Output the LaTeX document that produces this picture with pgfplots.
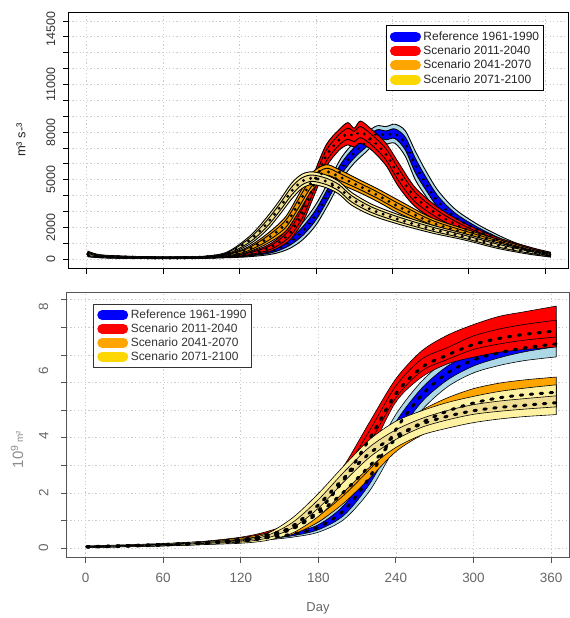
\documentclass[border=0pt]{standalone}
\usepackage{fontspec}
\setmainfont{Liberation Sans}
\usepackage{pgfplots}
\pgfplotsset{compat=1.18}
\usepackage{pgfplotstable}
\usepgfplotslibrary{fillbetween}

\definecolor{refout}{HTML}{ADD8E6}
\definecolor{refin}{HTML}{0000FF}
\definecolor{s1out}{HTML}{FF0000}
\definecolor{s1in}{HTML}{FF0000}
\definecolor{s2out}{HTML}{FFA500}
\definecolor{s2in}{HTML}{EE9A00}
\definecolor{s3out}{HTML}{FFF3A3}
\definecolor{s3in}{HTML}{EEDD92}
\definecolor{leggold}{HTML}{FFD700}
\definecolor{gridc}{HTML}{CCCCCC}
\definecolor{axgray}{HTML}{555555}
\definecolor{labgray}{HTML}{666666}

% ---------- top panel: discharge ----------
\pgfplotstableread{
day lo ilo mean ihi hi
1 150 225 300 375 450
10 100 140 180 220 260
30 60 90 120 150 180
60 30 55 80 105 130
90 50 75 100 125 150
110 90 120 150 180 210
125 140 180 220 260 300
140 250 325 400 475 550
150 400 525 650 775 900
160 700 900 1100 1300 1500
170 1250 1525 1800 2075 2350
180 2150 2475 2800 3125 3450
190 3500 3850 4200 4550 4900
200 5000 5350 5700 6050 6400
210 6050 6375 6700 7025 7350
220 6800 7100 7400 7700 8000
228 7400 7650 7900 8150 8400
235 7250 7525 7800 8075 8350
242 7300 7600 7900 8200 8500
250 6500 6900 7300 7700 8100
258 5000 5450 5900 6350 6800
266 4000 4400 4800 5200 5600
276 2900 3250 3600 3950 4300
290 2100 2350 2600 2850 3100
310 1350 1525 1700 1875 2050
336 550 675 800 925 1050
364 130 190 250 310 370
}\qref

\pgfplotstableread{
day lo ilo mean ihi hi
1 200 275 350 425 500
10 120 160 200 240 280
30 70 100 130 160 190
60 40 65 90 115 140
90 60 85 110 135 160
110 120 150 180 210 240
125 200 250 300 350 400
140 400 500 600 700 800
150 700 850 1000 1150 1300
160 1250 1475 1700 1925 2150
170 2400 2700 3000 3300 3600
178 3900 4250 4600 4950 5300
188 5800 6150 6500 6850 7200
198 6850 7175 7500 7825 8150
205 7200 7550 7900 8250 8600
210 7050 7400 7750 8050 8250
215 7300 7650 8000 8350 8700
224 6850 7175 7500 7825 8150
235 5900 6250 6600 6950 7300
245 4550 4925 5300 5675 6050
258 3300 3600 3900 4200 4500
276 2350 2575 2800 3025 3250
297 1550 1725 1900 2075 2250
323 850 975 1100 1225 1350
349 370 460 550 640 730
364 200 260 320 380 440
}\qsa

\pgfplotstableread{
day lo ilo mean ihi hi
1 180 240 300 360 420
10 100 135 170 205 240
30 60 85 110 135 160
60 40 60 80 100 120
90 60 85 110 135 160
110 170 210 250 290 330
125 400 475 550 625 700
141 950 1100 1250 1400 1550
156 1750 1975 2200 2425 2650
167 3050 3325 3600 3875 4150
177 4350 4625 4900 5175 5450
188 5050 5275 5500 5725 5950
198 4750 4975 5200 5425 5650
214 4200 4400 4600 4800 5000
229 3600 3800 4000 4200 4400
245 2900 3100 3300 3500 3700
271 2000 2150 2300 2450 2600
297 1400 1525 1650 1775 1900
323 850 950 1050 1150 1250
349 350 425 500 575 650
364 180 230 280 330 380
}\qsb

\pgfplotstableread{
day lo ilo mean ihi hi
1 180 240 300 360 420
10 100 135 170 205 240
30 60 85 110 135 160
60 40 60 80 100 120
90 90 110 130 150 170
110 280 320 360 400 440
128 950 1075 1200 1325 1450
141 1800 2000 2200 2400 2600
151 2750 2975 3200 3425 3650
161 3800 4050 4300 4550 4800
169 4450 4675 4900 5125 5350
177 4700 4900 5100 5300 5500
188 4500 4700 4900 5100 5300
198 4100 4300 4500 4700 4900
208 3400 3600 3800 4000 4200
224 2750 2925 3100 3275 3450
245 2200 2350 2500 2650 2800
271 1650 1775 1900 2025 2150
297 1200 1300 1400 1500 1600
323 670 760 850 940 1030
349 290 355 420 485 550
364 160 210 260 310 360
}\qsc

% ---------- bottom panel: cumulative (10^9 m^3) ----------
\pgfplotstableread{
day lo ilo mean ihi hi
1 0.02 0.03 0.045 0.06 0.07
30 0.05 0.06 0.075 0.09 0.1
60 0.08 0.1 0.115 0.13 0.15
90 0.13 0.15 0.175 0.2 0.22
120 0.22 0.25 0.28 0.31 0.34
140 0.3 0.34 0.38 0.42 0.46
160 0.4 0.45 0.51 0.57 0.62
180 0.58 0.67 0.76 0.85 0.95
200 1.05 1.2 1.38 1.57 1.75
220 2.1 2.35 2.6 2.88 3.15
240 3.7 4.0 4.3 4.58 4.85
260 5.0 5.3 5.55 5.8 6.05
280 5.85 6.1 6.35 6.6 6.85
300 6.35 6.6 6.82 7.06 7.3
320 6.62 6.9 7.08 7.32 7.55
340 6.8 7.12 7.26 7.5 7.72
364 6.93 7.3 7.4 7.62 7.85
}\vref

\pgfplotstableread{
day lo ilo mean ihi hi
1 0.03 0.044 0.05 0.06 0.07
30 0.06 0.078 0.085 0.098 0.11
60 0.1 0.121 0.13 0.146 0.16
90 0.15 0.187 0.2 0.223 0.24
120 0.25 0.3 0.32 0.36 0.4
140 0.36 0.44 0.48 0.54 0.6
160 0.55 0.69 0.75 0.85 0.95
180 1.0 1.24 1.35 1.55 1.75
200 2.0 2.35 2.5 2.76 3.0
220 3.5 3.84 4.0 4.29 4.6
240 5.3 5.45 5.6 5.88 6.14
260 6.2 6.42 6.55 6.85 7.15
280 6.68 6.84 7.0 7.27 7.72
300 6.92 7.2 7.38 7.69 8.1
320 7.1 7.4 7.6 7.94 8.4
340 7.2 7.54 7.75 8.11 8.57
364 7.29 7.65 7.87 8.26 8.77
}\vsa

\pgfplotstableread{
day lo ilo mean ihi hi
1 0.03 0.044 0.05 0.058 0.07
30 0.06 0.078 0.085 0.095 0.11
60 0.09 0.115 0.125 0.139 0.16
90 0.14 0.175 0.19 0.21 0.24
120 0.22 0.27 0.3 0.33 0.38
140 0.32 0.39 0.43 0.48 0.55
160 0.5 0.64 0.7 0.78 0.92
180 0.95 1.17 1.27 1.4 1.6
200 1.65 1.93 2.05 2.22 2.5
220 2.55 2.87 3.0 3.18 3.45
240 3.5 3.82 3.95 4.13 4.4
260 4.1 4.42 4.55 4.73 5.0
280 4.5 4.83 4.97 5.16 5.45
300 4.75 5.1 5.26 5.47 5.78
320 4.92 5.29 5.45 5.66 5.98
340 5.02 5.4 5.56 5.78 6.1
364 5.1 5.49 5.65 5.87 6.2
}\vsb

\pgfplotstableread{
day lo ilo mean ihi hi
1 0.03 0.048 0.055 0.067 0.08
30 0.06 0.082 0.09 0.104 0.12
60 0.09 0.119 0.13 0.148 0.17
90 0.13 0.17 0.185 0.21 0.24
120 0.18 0.223 0.24 0.268 0.3
140 0.28 0.366 0.4 0.455 0.52
160 0.55 0.73 0.8 0.93 1.1
180 1.15 1.45 1.57 1.76 1.98
200 2.05 2.42 2.55 2.77 3.0
220 2.95 3.31 3.45 3.68 3.95
240 3.65 3.94 4.07 4.29 4.6
260 4.1 4.38 4.5 4.7 4.98
280 4.35 4.65 4.78 4.99 5.28
300 4.55 4.85 4.98 5.2 5.5
320 4.68 4.96 5.1 5.33 5.68
340 4.77 5.04 5.18 5.42 5.8
364 4.84 5.12 5.27 5.52 5.92
}\vsc

% band: #1 table, #2 outer fill, #3 inner fill, #4 outline width, #5 path name
\newcommand{\band}[5]{%
  \addplot[draw=none, name path=#5a, forget plot, smooth] table[x=day,y=lo]{#1};
  \addplot[draw=none, name path=#5b, forget plot, smooth] table[x=day,y=hi]{#1};
  \addplot[draw=none, name path=#5c, forget plot, smooth] table[x=day,y=ilo]{#1};
  \addplot[draw=none, name path=#5d, forget plot, smooth] table[x=day,y=ihi]{#1};
  \addplot[fill=#2, draw=black, line width=#4, forget plot] fill between[of=#5a and #5b];
  \addplot[fill=#3, draw=black, line width=#4, forget plot] fill between[of=#5c and #5d];
}

\newcommand{\legbar}[2]{%
  \addlegendimage{legend image code/.code={%
    \path[draw=none, fill=none] (-2pt,-4.5pt) rectangle (31pt,4.5pt);
    \draw[solid, line width=10pt, line cap=round, draw=#1] (4pt,0pt) -- (25pt,0pt);}}
  \addlegendentry{#2}
}

\pgfplotsset{
  rstyle/.style={
    scale only axis,
    tick align=outside, tick pos=left,
    major tick length=6pt,
    scaled y ticks=false,
    grid=major,
    major grid style={gridc, line width=0.8pt, dash pattern=on 1.2pt off 2.4pt},
    yticklabels={},
    extra y tick style={major tick length=0pt, grid=none},
    yticklabel style={rotate=90, anchor=south},
    legend cell align=left,
  },
}

\begin{document}
\begin{tikzpicture}
\path (0pt,0pt) rectangle (571pt,-618pt);

\begin{axis}[rstyle,
  at={(69pt,-269pt)}, anchor=south west,
  width=501pt, height=257pt,
  xmin=-14.1, xmax=378, ymin=-565, ymax=15570,
  xtick={0,60,...,360}, xticklabels={},
  ytick={0,1000,...,15000},
  extra y ticks={0,2000,5000,8000,11000,14500},
  extra y tick labels={0,2000,5000,8000,11000,14500},
  ticklabel style={font=\fontsize{12.5}{14}\selectfont},
  yticklabel style={text=black!80, yshift=10pt},
  axis line style={black, line width=0.9pt},
  tick style={black, line width=0.9pt},
  ylabel={m³ s-³},
  ylabel style={at={(axis description cs:-0.096,0.5)}, anchor=center,
    font=\fontsize{13}{15}\selectfont, text=black!85},
  legend style={at={(0.952,0.949)}, anchor=north east, draw=black, line width=0.8pt,
    fill=white, font=\fontsize{12}{14}\selectfont, inner xsep=3pt, inner ysep=4.5pt,
    row sep=1pt, nodes={inner sep=1.6pt, text=black!85}},
]
\band{\qref}{refout}{refin}{0.9pt}{ra}
\addplot[black, line width=3.2pt, line cap=round, dash pattern=on 0pt off 7.5pt, smooth, forget plot] table[x=day,y=mean]{\qref};
\band{\qsa}{s1out}{s1in}{0.9pt}{sa}
\addplot[black, line width=3.2pt, line cap=round, dash pattern=on 0pt off 7.5pt, smooth, forget plot] table[x=day,y=mean]{\qsa};
\band{\qsb}{s2out}{s2in}{0.9pt}{sb}
\addplot[black, line width=3.2pt, line cap=round, dash pattern=on 0pt off 7.5pt, smooth, forget plot] table[x=day,y=mean]{\qsb};
\band{\qsc}{s3out}{s3in}{0.9pt}{sc}
\addplot[black, line width=3.2pt, line cap=round, dash pattern=on 0pt off 7.5pt, smooth, forget plot] table[x=day,y=mean]{\qsc};
\legbar{refin}{Reference 1961-1990}
\legbar{s1out}{Scenario 2011-2040}
\legbar{s2out}{Scenario 2041-2070}
\legbar{leggold}{Scenario 2071-2100}
\end{axis}

\begin{axis}[rstyle,
  at={(67pt,-559pt)}, anchor=south west,
  width=504pt, height=266pt,
  xmin=-14.6, xmax=374, ymin=-0.325, ymax=9.28,
  xtick={0,60,...,360}, xticklabels={0,60,120,180,240,300,360},
  ytick={0,...,9},
  extra y ticks={0,2,4.07,6.43,8.74},
  extra y tick labels={0,2,4,6,8},
  ticklabel style={font=\fontsize{13.5}{15}\selectfont, text=labgray},
  yticklabel style={yshift=15pt},
  xticklabel style={yshift=-6pt},
  axis line style={axgray, line width=0.9pt},
  tick style={axgray, line width=0.9pt},
  xlabel={Day},
  xlabel style={at={(axis description cs:0.5,-0.195)}, anchor=center,
    font=\fontsize{13}{15}\selectfont, text=labgray},
  ylabel={10\textsuperscript{9}\,{\fontsize{10}{11}\selectfont m²}},
  ylabel style={at={(axis description cs:-0.099,0.406)}, anchor=center,
    font=\fontsize{15}{17}\selectfont, text=black!45},
  legend style={at={(0.052,0.955)}, anchor=north west, draw=black!80, line width=0.8pt,
    fill=white, font=\fontsize{12}{14}\selectfont, inner xsep=3pt, inner ysep=4pt,
    row sep=0.5pt, nodes={inner sep=1.6pt, text=black!80}},
]
\band{\vref}{refout}{refin}{0.6pt}{rb}
\addplot[black, line width=3pt, line cap=round, dash pattern=on 2.5pt off 7.5pt, smooth, forget plot] table[x=day,y=mean]{\vref};
\band{\vsa}{s1out}{s1in}{0.6pt}{ta}
\addplot[black, line width=3pt, line cap=round, dash pattern=on 2.5pt off 7.5pt, smooth, forget plot] table[x=day,y=mean]{\vsa};
\band{\vsb}{s2out}{s2in}{0.6pt}{tb}
\addplot[black, line width=3pt, line cap=round, dash pattern=on 2.5pt off 7.5pt, smooth, forget plot] table[x=day,y=mean]{\vsb};
\band{\vsc}{s3out}{s3in}{0.6pt}{tc}
\addplot[black, line width=3pt, line cap=round, dash pattern=on 2.5pt off 7.5pt, smooth, forget plot] table[x=day,y=mean]{\vsc};
\legbar{refin}{Reference 1961-1990}
\legbar{s1out}{Scenario 2011-2040}
\legbar{s2out}{Scenario 2041-2070}
\legbar{leggold}{Scenario 2071-2100}
\end{axis}
\end{tikzpicture}
\end{document}
